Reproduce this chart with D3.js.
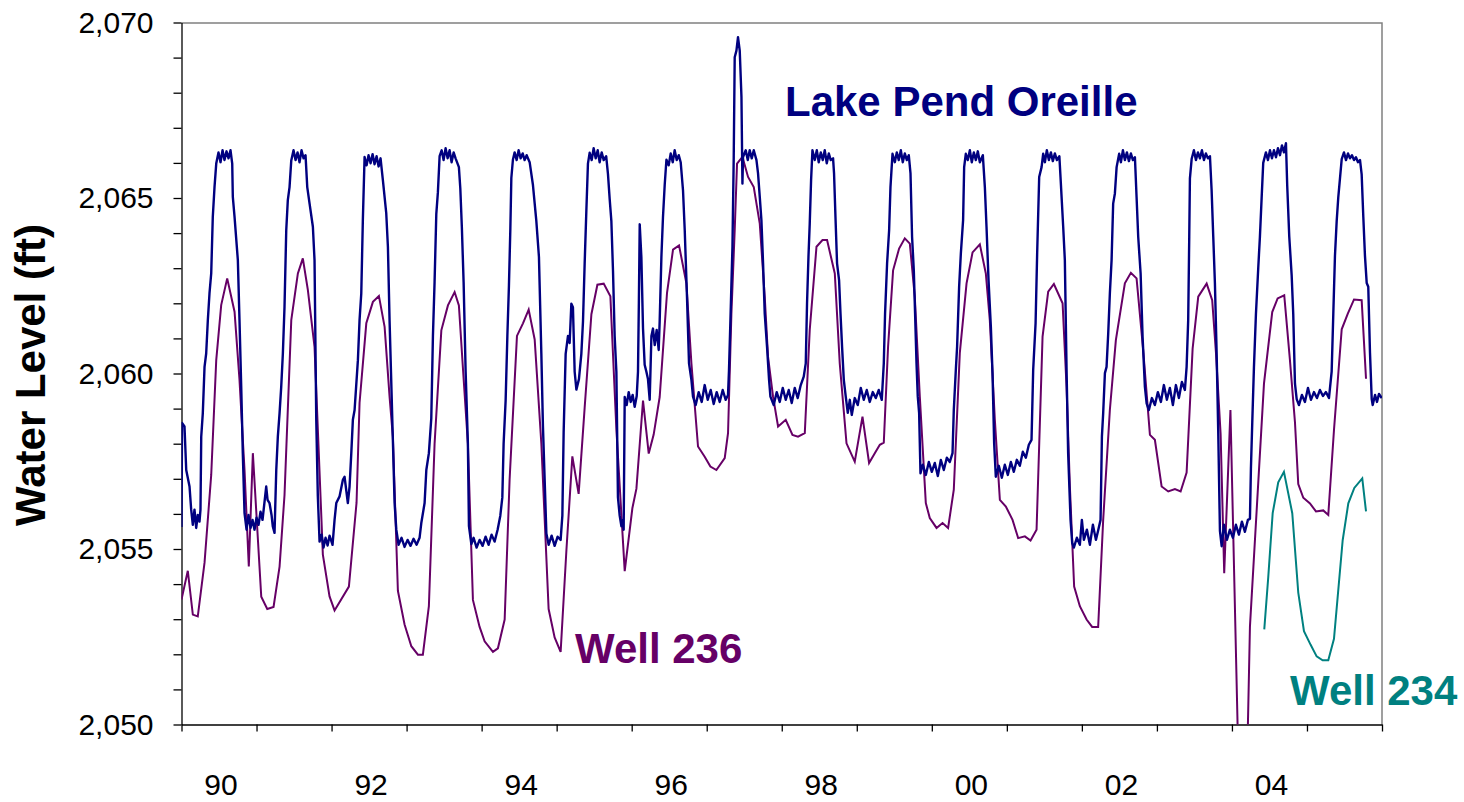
<!DOCTYPE html>
<html>
<head>
<meta charset="utf-8">
<script src="https://cdnjs.cloudflare.com/ajax/libs/d3/7.8.5/d3.min.js"></script>
<style>
  body { margin: 0; background: #fff; }
  svg text { font-family: "Liberation Sans", Arial, sans-serif; }
</style>
</head>
<body>
<div id="chart"></div>
<script>
// tick labels
var yearLabels = ["90", "92", "94", "96", "98", "00", "02", "04"];
var labelYears = [1990, 1992, 1994, 1996, 1998, 2000, 2002, 2004];
var levelTicks = [2050, 2051, 2052, 2053, 2054, 2055, 2056, 2057, 2058, 2059, 2060,
                  2061, 2062, 2063, 2064, 2065, 2066, 2067, 2068, 2069, 2070];

// lake stage, [decimal year, ft]
var lakeLevel = [
  [1990.000,2055.63],[1990.007,2058.59],[1990.040,2058.49],[1990.063,2057.25],[1990.107,2056.78],[1990.129,2056.12],
  [1990.151,2055.69],[1990.173,2056.12],[1990.196,2055.60],[1990.217,2055.97],[1990.240,2055.78],
  [1990.253,2056.12],[1990.263,2058.20],[1990.284,2058.87],[1990.307,2060.19],[1990.329,2060.57],[1990.351,2061.52],[1990.373,2062.28],[1990.396,2062.85],[1990.417,2064.46],[1990.440,2065.31],[1990.463,2065.98],
  [1990.493,2066.30],[1990.520,2066.02],[1990.547,2066.36],[1990.573,2066.08],[1990.600,2066.33],[1990.627,2066.13],[1990.653,2066.36],
  [1990.676,2065.98],[1990.684,2065.03],[1990.707,2064.46],[1990.751,2063.23],[1990.773,2061.52],[1990.796,2059.62],[1990.817,2057.73],[1990.840,2056.02],
  [1990.867,2055.55],[1990.893,2055.97],[1990.920,2055.60],[1990.947,2055.83],[1990.973,2055.55],[1991.000,2055.89],[1991.027,2055.69],[1991.053,2056.06],[1991.080,2055.83],
  [1991.129,2056.78],[1991.147,2056.40],[1991.173,2056.31],[1991.200,2055.97],[1991.217,2055.64],[1991.240,2055.46],
  [1991.263,2057.25],[1991.284,2058.20],[1991.307,2058.87],[1991.329,2059.62],[1991.351,2060.57],[1991.373,2061.90],[1991.396,2064.08],[1991.417,2064.94],[1991.440,2065.31],[1991.463,2066.07],
  [1991.493,2066.36],[1991.520,2066.08],[1991.547,2066.30],[1991.573,2066.02],[1991.600,2066.36],[1991.627,2066.13],[1991.653,2066.22],
  [1991.676,2065.31],[1991.707,2064.84],[1991.751,2064.18],[1991.773,2063.23],[1991.796,2058.68],[1991.817,2056.50],[1991.840,2055.21],
  [1991.867,2055.41],[1991.893,2055.04],[1991.920,2055.32],[1991.947,2055.10],[1991.973,2055.38],[1992.013,2055.12],
  [1992.040,2055.83],[1992.063,2056.31],[1992.107,2056.50],[1992.151,2056.97],[1992.173,2057.06],[1992.217,2056.31],[1992.240,2056.78],[1992.263,2057.73],[1992.284,2058.68],[1992.307,2058.96],[1992.351,2060.38],[1992.373,2061.52],[1992.396,2062.28],[1992.417,2064.37],[1992.440,2066.17],
  [1992.467,2065.93],[1992.493,2066.22],[1992.520,2065.99],[1992.547,2066.25],[1992.573,2065.96],[1992.600,2066.19],[1992.627,2065.90],[1992.653,2066.13],
  [1992.684,2065.51],[1992.729,2064.56],[1992.751,2063.61],[1992.773,2061.52],[1992.817,2058.11],[1992.840,2056.31],[1992.863,2055.55],
  [1992.893,2055.12],[1992.933,2055.32],[1992.973,2055.06],[1993.013,2055.26],[1993.053,2055.09],[1993.093,2055.29],[1993.133,2055.12],[1993.173,2055.32],
  [1993.196,2055.74],[1993.240,2056.31],[1993.263,2057.25],[1993.297,2057.73],[1993.329,2058.72],[1993.351,2061.07],[1993.373,2062.61],[1993.396,2064.55],[1993.417,2065.16],[1993.440,2066.19],
  [1993.467,2066.36],[1993.493,2066.08],[1993.520,2066.42],[1993.547,2066.13],[1993.573,2066.36],[1993.600,2066.02],[1993.627,2066.30],[1993.653,2066.13],
  [1993.697,2065.88],[1993.716,2065.27],[1993.737,2064.14],[1993.760,2062.60],[1993.787,2060.05],[1993.817,2058.00],[1993.831,2055.65],[1993.863,2055.14],
  [1993.893,2055.32],[1993.933,2055.04],[1993.973,2055.26],[1994.013,2055.09],[1994.053,2055.35],[1994.093,2055.12],[1994.133,2055.41],[1994.173,2055.21],[1994.213,2055.55],
  [1994.249,2055.95],[1994.276,2056.47],[1994.293,2058.00],[1994.320,2059.23],[1994.343,2061.07],[1994.364,2062.50],[1994.383,2064.14],[1994.396,2065.57],[1994.417,2066.09],
  [1994.440,2066.30],[1994.467,2066.08],[1994.493,2066.36],[1994.520,2066.13],[1994.547,2066.27],[1994.573,2066.08],[1994.600,2066.22],[1994.640,2066.02],
  [1994.684,2065.37],[1994.729,2064.35],[1994.764,2063.32],[1994.796,2060.56],[1994.817,2058.51],[1994.840,2056.98],[1994.863,2055.44],
  [1994.893,2055.12],[1994.933,2055.38],[1994.973,2055.09],[1995.013,2055.35],[1995.053,2055.26],
  [1995.076,2055.95],[1995.093,2058.31],[1995.120,2060.56],[1995.151,2061.07],[1995.173,2060.87],[1995.196,2061.99],[1995.217,2061.89],[1995.240,2060.05],[1995.263,2059.54],[1995.297,2059.84],[1995.329,2060.56],[1995.351,2061.48],[1995.373,2063.12],[1995.396,2064.65],[1995.417,2065.98],[1995.440,2066.29],
  [1995.467,2066.08],[1995.493,2066.42],[1995.520,2066.13],[1995.547,2066.36],[1995.573,2066.02],[1995.600,2066.30],[1995.627,2066.08],[1995.660,2066.19],
  [1995.684,2065.68],[1995.707,2064.96],[1995.729,2064.35],[1995.751,2062.92],[1995.773,2061.07],[1995.796,2060.05],[1995.817,2056.47],[1995.840,2055.95],[1995.863,2055.65],[1995.884,2055.83],[1995.893,2055.55],
  [1995.907,2059.33],[1995.933,2059.10],[1995.960,2059.47],[1995.987,2059.19],[1996.013,2059.39],[1996.040,2059.05],[1996.067,2059.36],
  [1996.084,2060.05],[1996.096,2062.09],[1996.107,2064.25],[1996.129,2063.32],[1996.151,2061.28],[1996.173,2060.25],[1996.196,2060.05],[1996.217,2059.84],[1996.240,2059.25],
  [1996.263,2061.07],[1996.284,2061.28],[1996.307,2060.81],[1996.333,2061.24],[1996.360,2060.67],[1996.373,2061.49],[1996.396,2063.32],[1996.417,2064.45],[1996.440,2065.37],[1996.463,2066.09],
  [1996.493,2065.93],[1996.520,2066.27],[1996.547,2066.02],[1996.573,2066.36],[1996.600,2066.08],[1996.627,2066.22],[1996.653,2066.02],
  [1996.684,2065.22],[1996.707,2064.08],[1996.737,2062.19],[1996.764,2060.29],[1996.796,2059.82],[1996.817,2059.34],
  [1996.853,2059.10],[1996.893,2059.47],[1996.933,2059.19],[1996.973,2059.67],[1997.013,2059.25],[1997.053,2059.53],[1997.093,2059.13],[1997.133,2059.47],[1997.173,2059.19],[1997.213,2059.53],[1997.253,2059.25],[1997.284,2059.39],
  [1997.297,2060.10],[1997.316,2061.52],[1997.343,2063.61],[1997.360,2066.17],[1997.373,2069.01],[1997.396,2069.20],[1997.417,2069.58],[1997.440,2069.20],[1997.463,2067.88],[1997.476,2065.41],[1997.484,2066.17],
  [1997.520,2066.36],[1997.547,2066.08],[1997.573,2066.36],[1997.600,2066.13],[1997.627,2066.36],[1997.663,2066.08],
  [1997.684,2065.70],[1997.707,2065.03],[1997.729,2064.37],[1997.751,2063.14],[1997.773,2061.71],[1997.804,2060.76],[1997.831,2059.82],[1997.849,2059.34],
  [1997.893,2059.10],[1997.933,2059.47],[1997.973,2059.19],[1998.013,2059.59],[1998.053,2059.25],[1998.093,2059.53],[1998.133,2059.16],[1998.173,2059.59],[1998.213,2059.30],[1998.253,2059.67],[1998.293,2059.91],
  [1998.320,2060.29],[1998.337,2062.00],[1998.356,2063.32],[1998.373,2064.27],[1998.391,2065.51],[1998.409,2066.36],
  [1998.440,2066.08],[1998.467,2066.36],[1998.493,2066.02],[1998.520,2066.30],[1998.547,2066.08],[1998.573,2066.36],[1998.600,2065.99],[1998.627,2066.27],[1998.653,2066.08],[1998.684,2066.13],
  [1998.697,2065.70],[1998.716,2064.46],[1998.737,2063.14],[1998.764,2062.66],[1998.783,2061.71],[1998.804,2060.76],[1998.827,2059.82],[1998.853,2059.34],
  [1998.880,2058.88],[1998.907,2059.25],[1998.933,2058.82],[1998.973,2059.30],[1999.013,2059.10],[1999.053,2059.59],[1999.093,2059.25],[1999.133,2059.53],[1999.173,2059.19],[1999.213,2059.47],[1999.253,2059.30],[1999.293,2059.53],[1999.333,2059.25],
  [1999.360,2060.29],[1999.377,2061.71],[1999.404,2063.14],[1999.431,2064.08],[1999.449,2065.31],[1999.476,2066.26],
  [1999.507,2066.02],[1999.533,2066.30],[1999.560,2066.08],[1999.587,2066.36],[1999.613,2066.02],[1999.640,2066.27],[1999.667,2066.08],[1999.693,2066.22],
  [1999.716,2065.70],[1999.737,2063.89],[1999.760,2062.94],[1999.777,2061.71],[1999.796,2060.29],[1999.813,2059.34],[1999.831,2058.87],[1999.849,2057.16],
  [1999.880,2057.40],[1999.920,2057.11],[1999.960,2057.48],[2000.000,2057.20],[2000.040,2057.45],[2000.080,2057.08],[2000.120,2057.54],[2000.160,2057.25],[2000.200,2057.60],[2000.240,2057.48],
  [2000.276,2057.73],[2000.293,2058.96],[2000.320,2060.10],[2000.337,2060.76],[2000.364,2062.47],[2000.387,2063.42],[2000.417,2064.37],[2000.431,2065.88],[2000.453,2066.26],
  [2000.480,2066.08],[2000.507,2066.36],[2000.533,2066.02],[2000.560,2066.30],[2000.587,2066.08],[2000.613,2066.33],[2000.640,2066.02],[2000.680,2066.22],
  [2000.707,2065.31],[2000.729,2064.18],[2000.756,2062.66],[2000.787,2061.33],[2000.809,2060.01],[2000.831,2058.01],[2000.853,2057.06],
  [2000.893,2057.37],[2000.933,2057.03],[2000.973,2057.40],[2001.013,2057.11],[2001.053,2057.48],[2001.093,2057.20],[2001.133,2057.54],[2001.173,2057.37],[2001.213,2057.77],[2001.253,2057.60],[2001.293,2057.97],
  [2001.329,2058.11],[2001.351,2060.10],[2001.383,2061.43],[2001.404,2063.42],[2001.431,2065.60],[2001.463,2065.88],[2001.484,2066.26],
  [2001.507,2066.02],[2001.533,2066.36],[2001.560,2066.08],[2001.587,2066.30],[2001.613,2066.05],[2001.640,2066.27],[2001.667,2066.08],[2001.700,2066.19],
  [2001.720,2065.41],[2001.751,2064.18],[2001.773,2063.23],[2001.796,2060.10],[2001.817,2057.73],[2001.849,2055.83],[2001.871,2055.17],
  [2001.893,2055.04],[2001.933,2055.32],[2001.973,2055.12],[2002.000,2055.83],[2002.027,2055.26],[2002.067,2055.55],[2002.107,2055.12],[2002.147,2055.69],[2002.187,2055.26],[2002.213,2055.49],
  [2002.249,2055.83],[2002.267,2058.20],[2002.284,2058.87],[2002.307,2060.01],[2002.329,2060.19],[2002.351,2061.14],[2002.373,2062.28],[2002.396,2063.23],[2002.417,2064.84],[2002.440,2065.13],[2002.463,2065.88],[2002.497,2066.26],
  [2002.520,2066.02],[2002.547,2066.36],[2002.573,2066.08],[2002.600,2066.30],[2002.627,2066.05],[2002.653,2066.27],[2002.680,2066.08],[2002.707,2066.16],
  [2002.729,2065.03],[2002.751,2063.89],[2002.783,2062.85],[2002.809,2061.05],[2002.840,2059.62],[2002.863,2059.15],
  [2002.893,2058.96],[2002.933,2059.30],[2002.973,2059.10],[2003.013,2059.47],[2003.053,2059.19],[2003.093,2059.67],[2003.133,2059.25],[2003.173,2059.59],[2003.213,2059.10],[2003.253,2059.67],[2003.293,2059.30],[2003.333,2059.76],[2003.373,2059.53],
  [2003.396,2060.19],[2003.417,2061.52],[2003.431,2063.89],[2003.440,2065.56],[2003.463,2066.11],
  [2003.493,2066.36],[2003.520,2066.08],[2003.547,2066.30],[2003.573,2066.13],[2003.600,2066.36],[2003.627,2066.08],[2003.653,2066.27],[2003.680,2066.13],[2003.707,2066.19],
  [2003.729,2065.23],[2003.751,2063.90],[2003.773,2062.58],[2003.796,2060.59],[2003.817,2058.39],[2003.840,2055.52],[2003.863,2055.08],
  [2003.893,2055.69],[2003.933,2055.26],[2003.973,2055.55],[2004.013,2055.32],[2004.053,2055.69],[2004.093,2055.41],[2004.133,2055.78],[2004.173,2055.49],[2004.213,2055.83],
  [2004.240,2055.86],[2004.253,2057.29],[2004.271,2058.61],[2004.293,2060.16],[2004.320,2061.70],[2004.351,2063.02],[2004.373,2063.90],[2004.396,2065.01],[2004.417,2066.00],
  [2004.453,2066.30],[2004.480,2066.08],[2004.507,2066.36],[2004.533,2066.13],[2004.560,2066.36],[2004.587,2066.16],[2004.613,2066.42],[2004.640,2066.22],[2004.667,2066.50],[2004.693,2066.30],[2004.720,2066.56],
  [2004.737,2065.34],[2004.764,2063.90],[2004.796,2062.80],[2004.817,2061.70],[2004.840,2059.71],[2004.863,2059.27],
  [2004.893,2059.10],[2004.933,2059.39],[2004.973,2059.19],[2005.013,2059.59],[2005.053,2059.25],[2005.093,2059.47],[2005.133,2059.30],[2005.173,2059.53],[2005.213,2059.36],[2005.253,2059.47],[2005.293,2059.30],
  [2005.329,2060.05],[2005.351,2061.70],[2005.373,2063.35],[2005.396,2064.34],[2005.417,2065.01],[2005.440,2065.56],[2005.463,2066.11],
  [2005.493,2066.30],[2005.520,2066.08],[2005.547,2066.27],[2005.573,2066.13],[2005.600,2066.22],[2005.627,2066.08],[2005.653,2066.16],[2005.680,2066.02],[2005.707,2066.08],
  [2005.729,2065.67],[2005.751,2064.46],[2005.773,2063.35],[2005.796,2062.58],[2005.817,2062.47],[2005.840,2060.59],[2005.863,2059.27],[2005.876,2059.10],
  [2005.907,2059.39],[2005.933,2059.19],[2005.960,2059.42],[2005.996,2059.30]
];

// well 236, monthly readings
var well236 = [
  [1990.000,2053.56],[1990.084,2054.38],[1990.151,2053.13],[1990.217,2053.08],[1990.307,2054.61],[1990.396,2057.11],[1990.463,2060.38],[1990.529,2061.95],[1990.609,2062.71],[1990.707,2061.76],[1990.773,2059.82],[1990.840,2057.25],[1990.897,2054.50],[1990.951,2057.73],
  [1991.063,2053.64],[1991.143,2053.29],[1991.227,2053.35],[1991.307,2054.50],[1991.373,2056.54],[1991.463,2061.52],[1991.551,2062.85],[1991.617,2063.28],[1991.684,2062.38],[1991.773,2060.76],[1991.884,2054.84],[1991.973,2053.65],
  [1992.040,2053.25],[1992.231,2053.93],[1992.333,2056.32],[1992.373,2059.16],[1992.463,2061.43],[1992.551,2062.04],[1992.631,2062.21],[1992.707,2061.33],[1992.773,2059.34],[1992.817,2058.20],[1992.884,2053.81],[1992.973,2052.85],
  [1993.063,2052.23],[1993.151,2051.99],[1993.217,2051.99],[1993.297,2053.37],[1993.373,2058.00],[1993.463,2061.23],[1993.551,2061.94],[1993.640,2062.32],[1993.697,2061.94],[1993.751,2060.15],[1993.817,2058.00],[1993.884,2053.55],[1993.973,2052.78],
  [1994.040,2052.37],[1994.151,2052.07],[1994.217,2052.17],[1994.307,2052.99],[1994.373,2056.98],[1994.471,2061.07],[1994.551,2061.43],[1994.627,2061.82],[1994.707,2060.97],[1994.796,2058.00],[1994.893,2053.29],[1994.973,2052.48],
  [1995.053,2052.07],[1995.129,2054.93],[1995.209,2057.64],[1995.293,2056.57],[1995.373,2059.02],[1995.463,2061.69],[1995.543,2062.53],[1995.627,2062.56],[1995.716,2062.20],[1995.796,2058.41],[1995.907,2054.37],
  [1996.009,2056.16],[1996.063,2056.72],[1996.151,2059.23],[1996.227,2057.72],[1996.293,2058.26],[1996.373,2059.33],[1996.471,2062.30],[1996.551,2063.53],[1996.631,2063.65],[1996.729,2062.57],[1996.796,2060.29],[1996.884,2057.92],[1996.973,2057.63],
  [1997.049,2057.35],[1997.129,2057.25],[1997.240,2057.59],[1997.284,2058.30],[1997.329,2061.71],[1997.373,2064.08],[1997.404,2065.98],[1997.476,2066.17],[1997.551,2065.60],[1997.627,2065.31],[1997.707,2064.27],[1997.773,2062.19],[1997.817,2060.48],[1997.884,2059.34],[1997.951,2058.49],
  [1998.053,2058.68],[1998.143,2058.25],[1998.217,2058.20],[1998.307,2058.30],[1998.373,2061.24],[1998.463,2063.61],[1998.543,2063.80],[1998.604,2063.80],[1998.707,2062.85],[1998.773,2060.29],[1998.863,2058.01],[1998.973,2057.49],
  [1999.076,2058.77],[1999.164,2057.45],[1999.240,2057.73],[1999.307,2057.97],[1999.360,2058.03],[1999.417,2060.76],[1999.484,2062.94],[1999.564,2063.56],[1999.640,2063.85],[1999.707,2063.70],[1999.773,2062.19],[1999.840,2059.34],[1999.920,2056.31],[1999.973,2055.88],
  [2000.063,2055.60],[2000.143,2055.74],[2000.217,2055.60],[2000.293,2056.69],[2000.373,2060.58],[2000.463,2062.57],[2000.543,2063.45],[2000.640,2063.68],[2000.720,2062.85],[2000.773,2061.52],[2000.840,2058.68],[2000.907,2056.40],[2000.987,2056.21],
  [2001.076,2055.83],[2001.151,2055.31],[2001.240,2055.36],[2001.316,2055.24],[2001.396,2055.55],[2001.476,2061.05],[2001.551,2062.33],[2001.627,2062.55],[2001.743,2062.00],[2001.796,2059.62],[2001.840,2056.78],[2001.897,2053.93],[2001.973,2053.37],
  [2002.063,2052.99],[2002.137,2052.78],[2002.217,2052.78],[2002.284,2055.83],[2002.373,2058.96],[2002.453,2060.95],[2002.573,2062.57],[2002.653,2062.87],[2002.729,2062.71],[2002.817,2060.67],[2002.907,2058.25],[2002.973,2058.11],
  [2003.063,2056.78],[2003.151,2056.64],[2003.240,2056.71],[2003.316,2056.64],[2003.396,2057.18],[2003.476,2060.71],[2003.551,2062.19],[2003.663,2062.56],[2003.737,2062.09],[2003.787,2060.59],[2003.849,2058.28],[2003.897,2054.31],[2003.980,2058.96],
  [2004.147,2043.23],[2004.240,2052.79],[2004.333,2056.23],[2004.427,2059.71],[2004.537,2061.75],[2004.609,2062.14],[2004.697,2062.23],[2004.773,2060.38],[2004.840,2058.61],[2004.884,2056.85],[2004.951,2056.46],
  [2005.040,2056.30],[2005.120,2056.07],[2005.217,2056.10],[2005.284,2055.97],[2005.360,2058.39],[2005.463,2061.26],[2005.543,2061.70],[2005.627,2062.11],[2005.729,2062.09],[2005.787,2059.85]
];

// well 234, monthly readings from mid 2004
var well234 = [
  [2004.431,2052.71],[2004.484,2054.20],[2004.543,2056.02],[2004.617,2056.90],[2004.693,2057.20],[2004.804,2056.02],[2004.884,2053.76],[2004.960,2052.66],[2005.049,2052.27],
  [2005.129,2051.94],[2005.209,2051.83],[2005.284,2051.83],[2005.360,2052.44],[2005.476,2055.25],[2005.551,2056.30],[2005.631,2056.74],[2005.737,2057.01],[2005.787,2056.07]
];

// set the dimensions and margins of the graph
var margin = {top: 22.5, right: 82, bottom: 77.5, left: 181.5},
    width = 1464 - margin.left - margin.right,
    height = 802 - margin.top - margin.bottom;

var svg = d3.select("#chart")
  .append("svg")
    .attr("width", 1464)
    .attr("height", 802)
  .append("g")
    .attr("transform", "translate(" + margin.left + "," + margin.top + ")");

// scales
var x = d3.scaleLinear()
  .domain([1990, 2006])
  .range([0, width]);

var y = d3.scaleLinear()
  .domain([2050, 2070])
  .range([height, 0]);

// clip so well 236 drop below 2050 is cut at the axis
svg.append("clipPath")
    .attr("id", "plotclip")
  .append("rect")
    .attr("x", 0)
    .attr("y", 0)
    .attr("width", width)
    .attr("height", height);

// plot area border (top and right)
svg.append("path")
  .attr("d", "M0,0.5H" + width + "V" + height)
  .attr("fill", "none")
  .attr("stroke", "#808080")
  .attr("stroke-width", 1.5);

// y axis, tick each foot, label each 5
var yAxis = svg.append("g")
  .call(d3.axisLeft(y)
    .tickValues(levelTicks)
    .tickSize(8)
    .tickSizeOuter(0)
    .tickPadding(20)
    .tickFormat(function(d) { return d % 5 === 0 ? d3.format(",")(d) : ""; }));
yAxis.selectAll("text")
  .attr("font-size", 30)
  .attr("fill", "#000");
yAxis.selectAll("line, path").attr("stroke", "#000").attr("stroke-width", 1.3);

// x axis, tick each year boundary
var xAxis = svg.append("g")
  .attr("transform", "translate(0," + height + ")")
  .call(d3.axisBottom(x)
    .tickValues(d3.range(1990, 2007))
    .tickSize(7)
    .tickSizeOuter(0)
    .tickFormat(""));
xAxis.selectAll("line, path").attr("stroke", "#000").attr("stroke-width", 1.3);

// year labels centred in their year
svg.append("g")
  .selectAll("text")
  .data(labelYears)
  .enter()
  .append("text")
    .attr("x", function(d) { return x(d + 0.5) + 2; })
    .attr("y", height + 70)
    .attr("text-anchor", "middle")
    .attr("font-size", 30)
    .attr("fill", "#000")
    .text(function(d, i) { return yearLabels[i]; });

// y axis title
svg.append("text")
  .attr("transform", "translate(" + (45 - margin.left) + "," + (375 - margin.top) + ") rotate(-90)")
  .attr("text-anchor", "middle")
  .attr("font-size", 42)
  .attr("font-weight", "bold")
  .attr("fill", "#000")
  .text("Water Level (ft)");

// lines
var line = d3.line()
  .x(function(d) { return x(d[0]); })
  .y(function(d) { return y(d[1]); });

var plot = svg.append("g").attr("clip-path", "url(#plotclip)");

plot.append("path")
  .datum(well236)
  .attr("fill", "none")
  .attr("stroke", "#660066")
  .attr("stroke-width", 2)
  .attr("d", line);

plot.append("path")
  .datum(well234)
  .attr("fill", "none")
  .attr("stroke", "#008080")
  .attr("stroke-width", 2)
  .attr("d", line);

// lake drawn last, sits over the wells
plot.append("path")
  .datum(lakeLevel)
  .attr("fill", "none")
  .attr("stroke", "#000080")
  .attr("stroke-width", 2.4)
  .attr("stroke-linejoin", "round")
  .attr("d", line);

// series labels
var labels = [
  {text: "Lake Pend Oreille", x: 785, y: 116, color: "#000080"},
  {text: "Well 236", x: 575, y: 663, color: "#660066"},
  {text: "Well 234", x: 1290, y: 705, color: "#008080"}
];
svg.append("g")
  .selectAll("text")
  .data(labels)
  .enter()
  .append("text")
    .attr("x", function(d) { return d.x - margin.left; })
    .attr("y", function(d) { return d.y - margin.top; })
    .attr("font-size", 42)
    .attr("font-weight", "bold")
    .attr("fill", function(d) { return d.color; })
    .text(function(d) { return d.text; });
</script>
</body>
</html>
